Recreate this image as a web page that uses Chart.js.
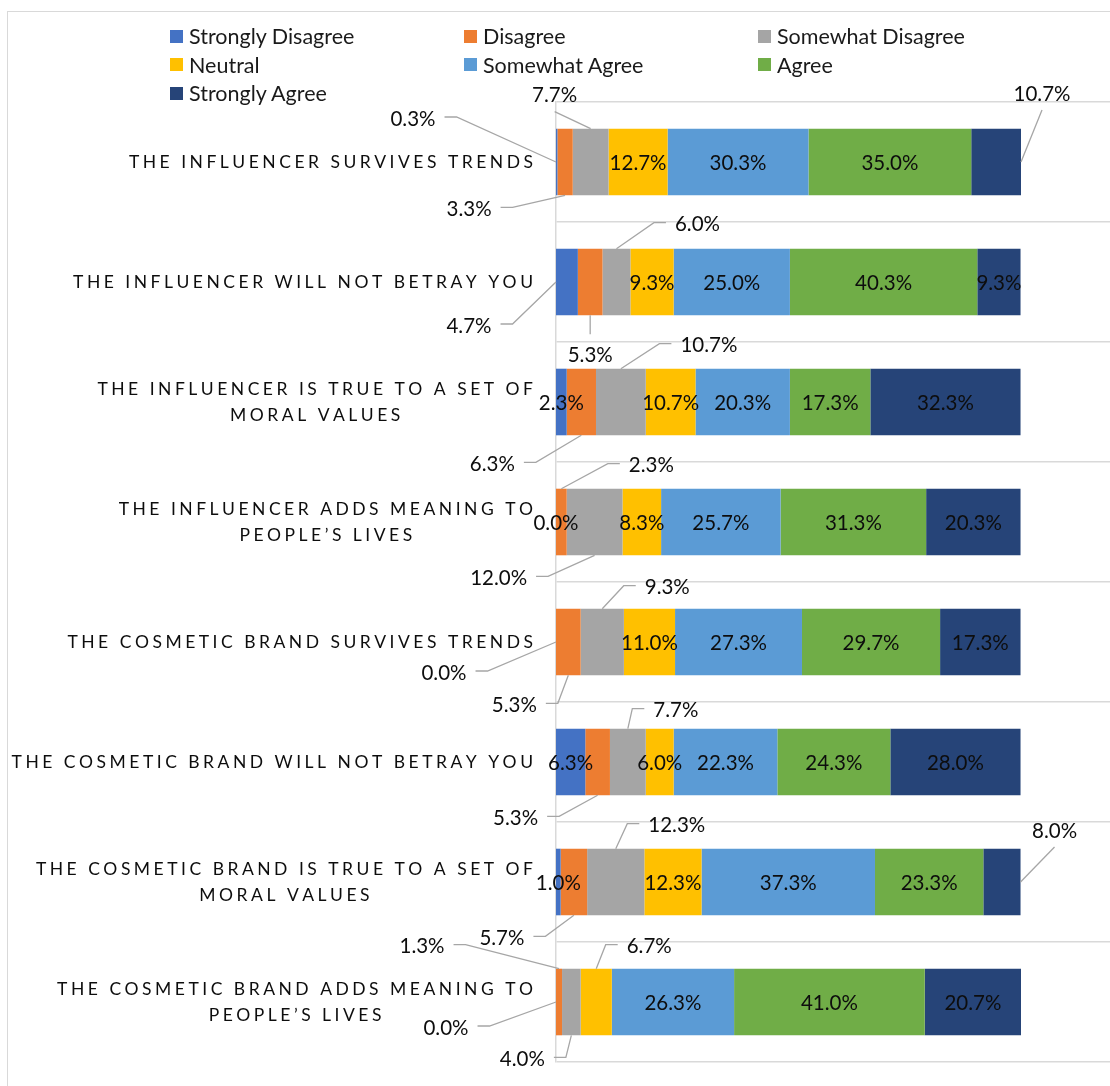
<!DOCTYPE html>
<html lang="en">
<head>
<meta charset="UTF-8">
<title>Influencer and cosmetic brand perceptions</title>
<script src="https://cdn.jsdelivr.net/npm/chart.js"></script>
<style>
    body {
        margin: 0;
        background: #fff;
        overflow: hidden;
        font-family: Lato, 'Open Sans', sans-serif;
    }
    .frame {
        position: absolute;
        left: 7px;
        top: 11px;
        width: 1300px;
        height: 1300px;
        border: 1.5px solid #d9d9d9;
    }
    #chart {
        position: absolute;
        left: 0;
        top: 0;
    }
    #legend {
        position: absolute;
        left: 170px;
        top: 22px;
        display: grid;
        grid-template-columns: 294px 294px 294px;
    }
    .item {
        display: flex;
        align-items: center;
        height: 28.5px;
        font-size: 21.5px;
        color: #1a1a1a;
        white-space: nowrap;
    }
    .swatch {
        width: 13px;
        height: 13px;
        margin-right: 6px;
    }
</style>
</head>
<body>
<div class="frame"></div>
<canvas id="chart" width="1120" height="1086"></canvas>
<div id="legend"></div>

<script>
// Statements, top to bottom
const categories = [
    ['THE INFLUENCER SURVIVES TRENDS'],
    ['THE INFLUENCER WILL NOT BETRAY YOU'],
    ['THE INFLUENCER IS TRUE TO A SET OF', 'MORAL VALUES'],
    ['THE INFLUENCER ADDS MEANING TO', 'PEOPLE’S LIVES'],
    ['THE COSMETIC BRAND SURVIVES TRENDS'],
    ['THE COSMETIC BRAND WILL NOT BETRAY YOU'],
    ['THE COSMETIC BRAND IS TRUE TO A SET OF', 'MORAL VALUES'],
    ['THE COSMETIC BRAND ADDS MEANING TO', 'PEOPLE’S LIVES']
];

const seriesNames = ['Strongly Disagree', 'Disagree', 'Somewhat Disagree', 'Neutral',
                     'Somewhat Agree', 'Agree', 'Strongly Agree'];
const seriesColors = ['#4472C4', '#ED7D31', '#A5A5A5', '#FFC000', '#5B9BD5', '#70AD47', '#264478'];

// Share of respondents (%) per answer
const stronglyDisagree = [0.3, 4.7, 2.3, 0.0, 0.0, 6.3, 1.0, 0.0];
const disagree         = [3.3, 5.3, 6.3, 2.3, 5.3, 5.3, 5.7, 1.3];
const somewhatDisagree = [7.7, 6.0, 10.7, 12.0, 9.3, 7.7, 12.3, 4.0];
const neutral          = [12.7, 9.3, 10.7, 8.3, 11.0, 6.0, 12.3, 6.7];
const somewhatAgree    = [30.3, 25.0, 20.3, 25.7, 27.3, 22.3, 37.3, 26.3];
const agree            = [35.0, 40.3, 17.3, 31.3, 29.7, 24.3, 23.3, 41.0];
const stronglyAgree    = [10.7, 9.3, 32.3, 20.3, 17.3, 28.0, 8.0, 20.7];

const seriesValues = [stronglyDisagree, disagree, somewhatDisagree, neutral,
                      somewhatAgree, agree, stronglyAgree];

// Labels that sit outside their segment, joined by a leader line.
// key = "row:series", anchor = side of the segment, dx/dy = label centre offset
const callouts = {
    '0:0': { anchor: 'left',   dx: -143, dy: -44 },
    '0:1': { anchor: 'bottom', dx: -96,  dy: 13 },
    '0:2': { anchor: 'top',    dx: -36,  dy: -34, leader: 'v' },
    '0:6': { anchor: 'right',  dx: 21,   dy: -69, leader: 'v' },
    '1:0': { anchor: 'left',   dx: -87,  dy: 43 },
    '1:1': { anchor: 'bottom', dx: 0,    dy: 39,  leader: 'v' },
    '1:2': { anchor: 'top',    dx: 81,   dy: -25 },
    '2:1': { anchor: 'bottom', dx: -89,  dy: 28 },
    '2:2': { anchor: 'top',    dx: 88,   dy: -24 },
    '3:1': { anchor: 'top',    dx: 90,   dy: -24 },
    '3:2': { anchor: 'bottom', dx: -96,  dy: 22 },
    '4:0': { anchor: 'left',   dx: -112, dy: 30 },
    '4:1': { anchor: 'bottom', dx: -54,  dy: 29 },
    '4:2': { anchor: 'top',    dx: 65,   dy: -22 },
    '5:1': { anchor: 'bottom', dx: -82,  dy: 22 },
    '5:2': { anchor: 'top',    dx: 48,   dy: -19 },
    '6:1': { anchor: 'bottom', dx: -72,  dy: 22 },
    '6:2': { anchor: 'top',    dx: 61,   dy: -24 },
    '6:6': { anchor: 'right',  dx: 34,   dy: -52, leader: 'v' },
    '7:0': { anchor: 'left',   dx: -110, dy: 25 },
    '7:1': { anchor: 'top',    dx: -137, dy: -23 },
    '7:2': { anchor: 'bottom', dx: -49,  dy: 23 },
    '7:3': { anchor: 'top',    dx: 53,   dy: -23 }
};

const LABEL_FONT = '20.5px Lato';
const CAT_FONT = '17.5px Lato';
const CAT_SPACING = 3.5;
const CAT_RIGHT = 533;

function anchorPoint(bar, side) {
    const left = Math.min(bar.base, bar.x);
    const right = Math.max(bar.base, bar.x);
    const half = bar.height / 2;
    if (side === 'left') return { x: left, y: bar.y };
    if (side === 'right') return { x: right, y: bar.y };
    if (side === 'top') return { x: (left + right) / 2, y: bar.y - half };
    return { x: (left + right) / 2, y: bar.y + half };
}

// Letter-spaced text, drawn one glyph at a time
function spacedWidth(ctx, s, sp) {
    let w = 0;
    for (const ch of s) w += ctx.measureText(ch).width + sp;
    return w - sp;
}
function drawSpaced(ctx, s, x, y, sp) {
    for (const ch of s) {
        ctx.fillText(ch, x, y);
        x += ctx.measureText(ch).width + sp;
    }
}

const segmentLabels = {
    id: 'segmentLabels',
    afterDatasetsDraw(chart) {
        const ctx = chart.ctx;
        ctx.save();
        ctx.font = LABEL_FONT;
        ctx.textAlign = 'center';
        ctx.textBaseline = 'middle';
        ctx.strokeStyle = '#a6a6a6';
        ctx.lineWidth = 1.3;
        chart.data.datasets.forEach((ds, di) => {
            const meta = chart.getDatasetMeta(di);
            meta.data.forEach((bar, i) => {
                const text = ds.data[i].toFixed(1) + '%';
                const co = callouts[i + ':' + di];
                ctx.fillStyle = '#0d0d0d';
                if (!co) {
                    ctx.fillText(text, (bar.base + bar.x) / 2, bar.y + 1);
                    return;
                }
                const a = anchorPoint(bar, co.anchor);
                const lx = a.x + co.dx;
                const ly = a.y + co.dy;
                ctx.fillText(text, lx, ly + 1);
                const w = ctx.measureText(text).width;
                ctx.beginPath();
                if (co.leader === 'v') {
                    const sy = ly + (co.dy < 0 ? 17 : -20);
                    ctx.moveTo(lx, sy);
                    ctx.lineTo(a.x, a.y);
                } else {
                    const dir = co.dx < 0 ? 1 : -1;
                    const sx = lx + dir * (w / 2 + 9);
                    ctx.moveTo(sx, ly - 1);
                    ctx.lineTo(sx + dir * 12, ly - 1);
                    ctx.lineTo(a.x, a.y);
                }
                ctx.stroke();
            });
        });
        ctx.restore();
    },
    afterDraw(chart) {
        // statement labels on the category axis
        const ctx = chart.ctx;
        const yScale = chart.scales.y;
        ctx.save();
        ctx.font = CAT_FONT;
        ctx.fillStyle = '#0d0d0d';
        ctx.textAlign = 'left';
        ctx.textBaseline = 'middle';
        categories.forEach((lines, i) => {
            const cy = yScale.getPixelForValue(i);
            const widths = lines.map(l => spacedWidth(ctx, l, CAT_SPACING));
            const blockW = Math.max(...widths);
            const mid = CAT_RIGHT - blockW / 2;
            const lineH = 26;
            lines.forEach((l, k) => {
                const y = cy + (k - (lines.length - 1) / 2) * lineH;
                drawSpaced(ctx, l, mid - widths[k] / 2, y, CAT_SPACING);
            });
        });
        ctx.restore();
    }
};

const chart = new Chart(document.getElementById('chart'), {
    type: 'bar',
    data: {
        labels: categories.map(c => c.join(' ')),
        datasets: seriesNames.map((name, k) => ({
            label: name,
            data: seriesValues[k],
            backgroundColor: seriesColors[k],
            borderWidth: 0,
            categoryPercentage: 1,
            barPercentage: 0.555
        }))
    },
    options: {
        indexAxis: 'y',
        responsive: false,
        animation: false,
        devicePixelRatio: 1,
        layout: { padding: { left: 556, right: 6, top: 102, bottom: 24 } },
        plugins: {
            legend: { display: false },
            tooltip: { enabled: false }
        },
        scales: {
            x: { stacked: true, min: 0, max: 120, display: false },
            y: {
                stacked: true,
                ticks: { display: false },
                grid: { color: '#d9d9d9', lineWidth: 1.5, drawTicks: false, offset: true },
                border: { color: '#d9d9d9', width: 1.5 },
                afterFit: s => { s.width = 0; }
            }
        }
    },
    plugins: [segmentLabels]
});

// Legend, three columns like the chart's own key
const legend = document.getElementById('legend');
chart.data.datasets.forEach(ds => {
    const item = document.createElement('div');
    item.className = 'item';
    const sw = document.createElement('span');
    sw.className = 'swatch';
    sw.style.background = ds.backgroundColor;
    item.appendChild(sw);
    item.appendChild(document.createTextNode(ds.label));
    legend.appendChild(item);
});
</script>
</body>
</html>
